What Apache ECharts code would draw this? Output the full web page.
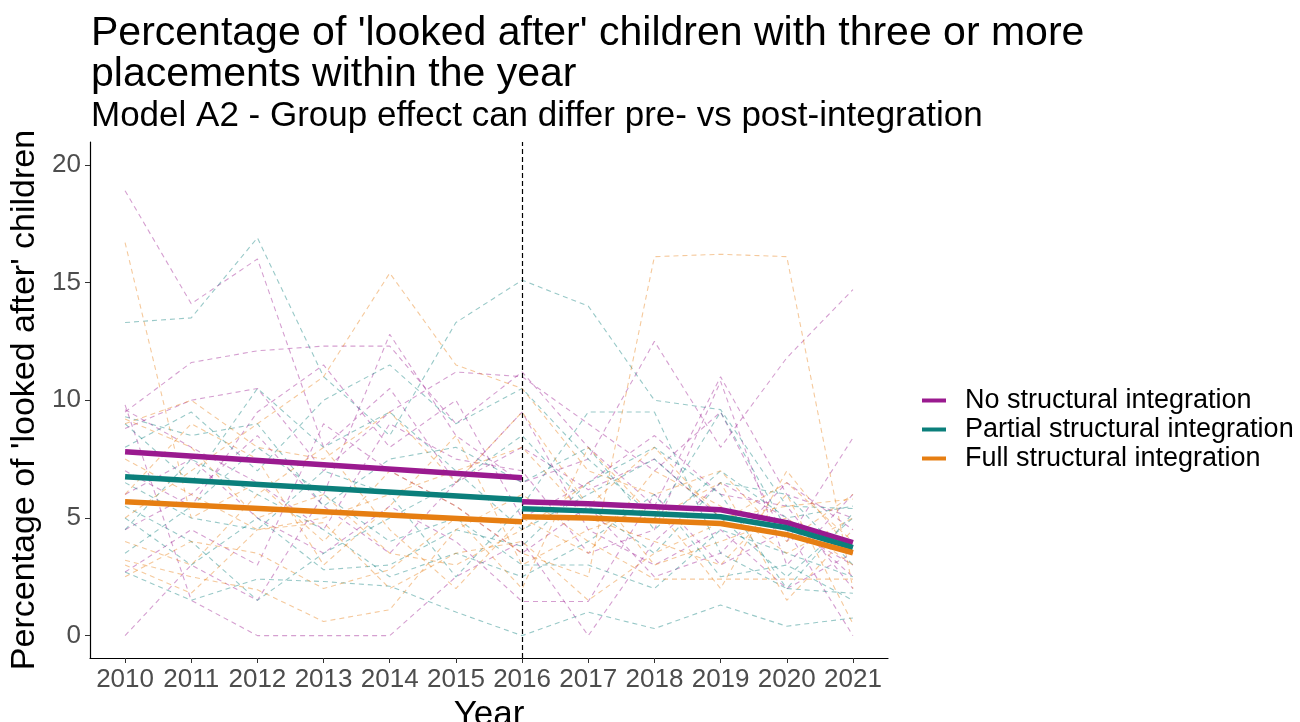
<!DOCTYPE html>
<html><head><meta charset="utf-8">
<script src="https://cdn.jsdelivr.net/npm/echarts@6/dist/echarts.min.js"></script>
<style>html,body{margin:0;padding:0;background:#fff}#c{width:1300px;height:722px}</style>
</head><body><div id="c"></div>
<script>
const years = [2010,2011,2012,2013,2014,2015,2016,2017,2018,2019,2020,2021];
const yTicks = [0,5,10,15,20];
const groupNames = ['No structural integration','Partial structural integration','Full structural integration'];
const groupColors = ['#9a1a8f','#0b7f7b','#e67e12'];

// individual areas (dashed), by group
const noAreas = [
  [18.9,14.1,16.0,8.0,10.5,6.5,8.0,6.2,7.5,5.0,4.6,3.0],
  [9.5,11.6,12.1,12.3,12.3,9.0,11.2,8.0,5.5,11.0,6.0,5.0],
  [0.0,3.0,1.5,6.0,12.8,8.5,6.5,7.5,12.5,8.0,11.8,14.7],
  [9.8,1.5,0.0,0.0,0.0,2.5,4.0,0.0,4.0,6.5,5.0,2.5],
  [8.8,10.0,10.5,7.0,9.5,11.2,11.0,9.0,7.0,9.5,4.0,8.4],
  [6.0,7.5,5.0,3.5,5.5,4.0,1.45,1.45,6.0,3.0,4.5,0.0],
  [4.5,6.0,8.5,5.5,3.5,6.5,9.5,4.5,3.0,4.5,2.0,3.5],
  [2.7,4.5,3.0,9.0,7.0,5.5,3.5,5.5,2.5,3.5,6.5,4.5],
  [9.6,8.0,6.5,4.5,9.0,7.5,7.0,3.5,4.5,10.8,3.0,6.0],
  [7.0,5.5,9.5,11.5,8.0,10.0,5.0,6.5,8.5,6.0,5.5,2.0]
];
const partialAreas = [
  [13.3,13.5,16.9,11.0,8.5,13.3,15.1,14.0,10.0,9.6,5.5,5.4],
  [2.7,1.5,2.4,2.3,2.1,1.0,0.0,1.0,0.3,1.3,0.4,0.75],
  [9.0,6.5,10.5,8.0,9.5,7.0,4.5,6.0,7.5,5.0,2.5,5.0],
  [4.5,7.5,6.0,4.5,2.5,3.5,2.5,4.0,6.0,2.5,3.0,1.5],
  [5.5,4.0,1.5,3.5,5.0,6.5,8.5,5.5,3.5,6.5,6.0,3.0],
  [8.0,9.5,7.0,10.0,11.5,9.0,10.5,7.5,5.0,9.5,4.5,4.0],
  [6.5,5.0,4.5,7.0,6.0,2.5,5.5,9.5,9.5,3.5,2.0,5.2],
  [3.5,5.5,8.0,6.0,4.0,5.0,3.0,3.0,2.0,4.5,3.5,2.5],
  [9.3,8.5,9.0,5.5,7.5,8.0,6.5,8.0,4.5,7.0,5.0,5.5],
  [5.0,3.0,5.0,2.8,3.0,4.5,3.8,6.5,8.0,6.0,2.0,1.8]
];
const fullAreas = [
  [16.7,5.0,6.5,4.0,7.0,5.5,3.5,2.5,16.1,16.2,16.1,2.0],
  [3.2,2.5,1.95,0.6,1.1,4.5,6.0,4.0,2.4,2.4,2.4,2.4],
  [5.0,7.0,9.0,11.0,15.4,11.5,10.5,7.0,6.0,7.0,4.0,6.0],
  [9.2,8.0,5.0,6.0,3.5,3.0,4.5,6.5,3.0,4.0,5.0,3.0],
  [2.5,4.0,3.5,2.0,2.8,5.0,2.0,8.0,5.0,6.5,1.5,4.5],
  [7.5,6.0,4.5,5.0,6.0,7.0,8.0,5.0,4.0,3.0,6.0,0.5],
  [4.0,3.0,6.0,8.0,4.5,2.0,5.0,3.5,7.0,5.5,3.5,5.0],
  [6.0,9.0,7.5,3.0,5.5,8.5,3.0,4.5,5.5,2.0,7.0,3.5],
  [9.0,10.0,8.0,7.5,9.5,6.5,9.5,5.5,8.0,5.0,5.5,5.8],
  [3.0,1.8,4.5,4.8,2.0,3.5,4.0,1.5,3.5,4.8,6.5,4.0]
];

// model fits
const preYears = [2010,2016];
const postYears = [2016,2017,2018,2019,2020,2021];
const noPre = [7.81,6.71];
const partialPre = [6.75,5.77];
const fullPre = [5.69,4.84];
const noPost = [5.69,5.60,5.48,5.35,4.80,3.95];
const partialPost = [5.39,5.30,5.18,5.05,4.58,3.74];
const fullPost = [5.05,5.00,4.88,4.76,4.29,3.52];

const integrationYear = 2016;

const font = '"Liberation Sans", Arial, sans-serif';
const series = [];
function hexA(hex,a){const n=parseInt(hex.slice(1),16);return `rgba(${n>>16},${(n>>8)&255},${n&255},${a})`;}
[noAreas,partialAreas,fullAreas].forEach((grp,gi)=>{
  grp.forEach((vals,i)=>{
    series.push({
      name:'area'+gi+'_'+i, type:'line', symbol:'none', silent:true, z:2,
      data: years.map((y,k)=>[y,vals[k]]),
      lineStyle:{color:hexA(groupColors[gi],0.42), width:1.1, type:[5,4]}
    });
  });
});
// vertical marker
series.push({
  name:'marker', type:'line', data:[], silent:true, z:3,
  markLine:{symbol:'none', silent:true, label:{show:false},
    lineStyle:{color:'#000', width:1.2, type:[5,3]},
    data:[{xAxis:integrationYear}]}
});
const fits = [[noPre,noPost],[partialPre,partialPost],[fullPre,fullPost]];
fits.forEach((f,gi)=>{
  series.push({name:groupNames[gi], type:'line', symbol:'none', z:5,
    data: preYears.map((y,k)=>[y,f[0][k]]),
    lineStyle:{color:groupColors[gi], width:5.5}, itemStyle:{color:groupColors[gi]}});
  series.push({name:groupNames[gi], type:'line', symbol:'none', z:5,
    data: postYears.map((y,k)=>[y,f[1][k]]),
    lineStyle:{color:groupColors[gi], width:5.5}, itemStyle:{color:groupColors[gi]}});
});

const chart = echarts.init(document.getElementById('c'), null, {renderer:'canvas'});
chart.setOption({
  animation:false,
  backgroundColor:'#fff',
  title:{
    left:86, top:8,
    text:"Percentage of 'looked after' children with three or more\nplacements within the year",
    subtext:'Model A2 - Group effect can differ pre- vs post-integration',
    textStyle:{fontFamily:font, fontSize:41, fontWeight:'normal', color:'#000', lineHeight:41},
    subtextStyle:{fontFamily:font, fontSize:35, color:'#000', lineHeight:36},
    itemGap:3
  },
  legend:{
    data:groupNames, orient:'vertical', left:917, top:382, itemGap:2,
    itemWidth:24, itemHeight:4, icon:'rect',
    textStyle:{fontFamily:font, fontSize:27, lineHeight:26, color:'#000', padding:[0,0,0,14]}
  },
  grid:{left:90, right:412, top:142, bottom:64, containLabel:false, outerBoundsMode:'none'},
  xAxis:{
    type:'value', min:2009.47, max:2021.53,
    name:'Year', nameLocation:'middle', nameGap:35,
    nameTextStyle:{fontFamily:font, fontSize:35, color:'#000'},
    axisLine:{show:true, onZero:false, lineStyle:{color:'#000', width:1.2}},
    axisTick:{show:true, length:5, lineStyle:{color:'#333'}, customValues:years},
    axisLabel:{fontFamily:font, fontSize:26, color:'#4d4d4d', margin:9, customValues:years, formatter:v=>String(v)},
    splitLine:{show:false}
  },
  yAxis:{
    type:'value', min:-0.95, max:20.97,
    name:"Percentage of 'looked after' children", nameLocation:'middle', nameGap:39,
    nameTextStyle:{fontFamily:font, fontSize:34, color:'#000'},
    axisLine:{show:true, onZero:false, lineStyle:{color:'#000', width:1.2}},
    axisTick:{show:true, length:5, lineStyle:{color:'#333'}, customValues:yTicks},
    axisLabel:{fontFamily:font, fontSize:26, color:'#4d4d4d', margin:9, customValues:yTicks},
    splitLine:{show:false}
  },
  series:series
});
</script>
</body></html>
